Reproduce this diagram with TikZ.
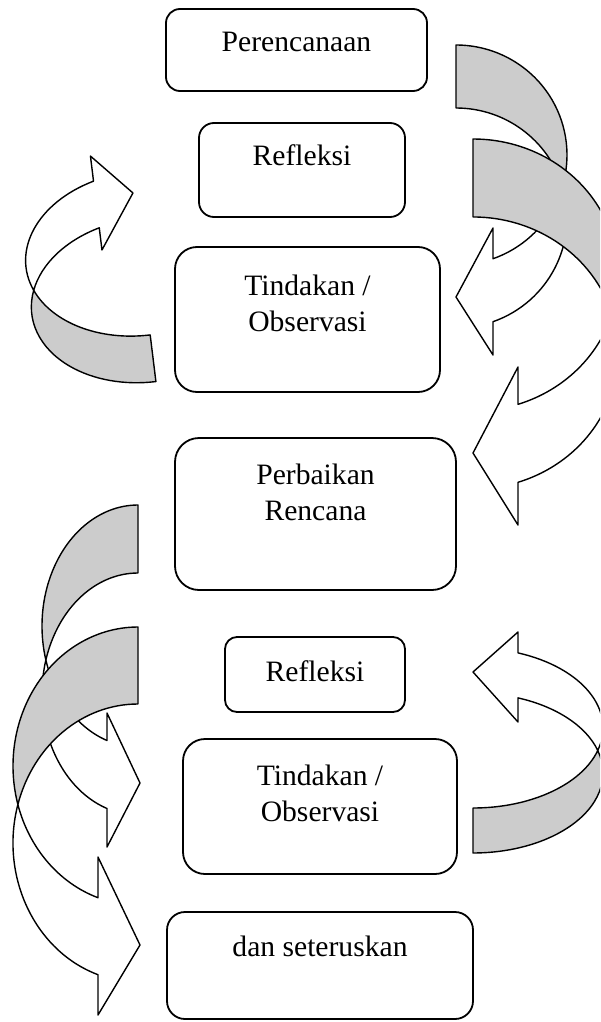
\documentclass[tikz,border=0pt]{standalone}
\usepackage{fontspec}
\setmainfont{Liberation Serif}
\usetikzlibrary{positioning}
\tikzset{
  box/.style={draw, line width=0.9pt, inner sep=0pt, rounded corners=8pt},
  boxtext/.style={inner sep=0pt, align=center, font=\fontsize{14.8}{18.2}\selectfont},
  back/.style={draw, fill=black!20, line width=0.7pt, line join=round},
  front/.style={draw, fill=white, line width=0.7pt, line join=round},
}

\begin{document}
\begin{tikzpicture}[x=0.5pt, y=-0.5pt]
\useasboundingbox (0,0) rectangle (600,1022);
\clip (0,0) rectangle (600,1022);

% ---- boxes (absolute positions, 1 unit = 1 px of the page) ----------------
\node[box, minimum width=130.5pt, minimum height=41pt, rounded corners=7pt]   (plan)  at (296.5,50)  {};
\node[box, minimum width=103pt,   minimum height=47pt, rounded corners=7.5pt] (refl1) at (302,170)   {};
\node[box, minimum width=132.5pt, minimum height=72.5pt, rounded corners=11pt] (act1) at (307.5,319.5) {};
\node[box, minimum width=140.5pt, minimum height=76pt, rounded corners=12pt]  (fix)   at (315.5,514) {};
\node[box, minimum width=90pt,    minimum height=37.5pt, rounded corners=6pt] (refl2) at (315,674.5) {};
\node[box, minimum width=137pt,   minimum height=67.5pt, rounded corners=11pt] (act2) at (320,806.5) {};
\node[box, minimum width=153pt,   minimum height=53.5pt, rounded corners=9pt] (next)  at (320,965.5) {};

% ---- texts, hanging from the top of each box --------------------------------
\node[boxtext, below=12pt of plan.north]  (plan-t)  {Perencanaan};
\node[boxtext, below=11pt of refl1.north] (refl1-t) {Refleksi};
\node[boxtext, below=14pt of act1.north]  (act1-t)  {Tindakan /\\Observasi};
\node[boxtext, below=13pt of fix.north]   (fix-t)   {Perbaikan\\Rencana};
\node[boxtext, below=12pt of refl2.north] (refl2-t) {Refleksi};
\node[boxtext, below=13pt of act2.north]  (act2-t)  {Tindakan /\\Observasi};
\node[boxtext, below=12pt of next.north]  (next-t)  {dan seteruskan};

% ---- right side, upper twisted arrows ---------------------------------------
\path[back] (456,45) arc[start angle=-90, end angle=16.64, x radius=111, y radius=110]
  arc[start angle=-16.64, end angle=-90, x radius=111, y radius=110] -- cycle;
\path[front] (493,321.7) arc[start angle=70.53, end angle=-16.64, x radius=111, y radius=110]
  arc[start angle=16.64, end angle=70.53, x radius=111, y radius=110]
  -- (493,228) -- (456,297) -- (493,355) -- cycle;

\path[back] (473,139) arc[start angle=-90, end angle=16.66, x radius=145, y radius=136]
  arc[start angle=-16.66, end angle=-90, x radius=145, y radius=136] -- cycle;
\path[front] (518,482.3) arc[start angle=71.92, end angle=-16.66, x radius=145, y radius=136]
  arc[start angle=16.66, end angle=71.92, x radius=145, y radius=136]
  -- (518,367) -- (473,453) -- (518,525) -- cycle;

% ---- left side, upper arrow (slightly turned) -------------------------------
\path[back, rotate around={7:(150,276)}] (143,334.5)
  arc[start angle=90, end angle=163.35, x radius=115, y radius=82]
  arc[start angle=196.65, end angle=90, x radius=115, y radius=82] -- cycle;
\path[front, rotate around={7:(150,276)}] (105.5,175)
  arc[start angle=250.97, end angle=163.35, x radius=115, y radius=82]
  arc[start angle=196.65, end angle=250.97, x radius=115, y radius=82]
  -- (105.5,244.3) -- (143.2,191.5) -- (105.5,149.7) -- cycle;

% ---- left side, lower twisted arrows ----------------------------------------
\path[back] (138,505) arc[start angle=270, end angle=163.68, x radius=96, y radius=121]
  arc[start angle=196.32, end angle=270, x radius=96, y radius=121] -- cycle;
\path[front] (107,808.5) arc[start angle=108.84, end angle=196.32, x radius=96, y radius=121]
  arc[start angle=163.68, end angle=108.84, x radius=96, y radius=121]
  -- (107,713) -- (140,783) -- (107,847) -- cycle;

\path[back] (138,627) arc[start angle=270, end angle=163.92, x radius=125, y radius=139]
  arc[start angle=196.08, end angle=270, x radius=125, y radius=139] -- cycle;
\path[front] (98,974.7) arc[start angle=108.66, end angle=196.08, x radius=125, y radius=139]
  arc[start angle=163.92, end angle=108.66, x radius=125, y radius=139]
  -- (98,857) -- (140,945) -- (98,1015) -- cycle;

% ---- right side, lower arrow ------------------------------------------------
\path[back] (473,808) arc[start angle=90, end angle=16.33, x radius=130, y radius=80]
  arc[start angle=-16.33, end angle=90, x radius=130, y radius=80] -- cycle;
\path[front] (518,652.9) arc[start angle=-69.75, end angle=16.33, x radius=130, y radius=80]
  arc[start angle=-16.33, end angle=-69.75, x radius=130, y radius=80]
  -- (518,722) -- (473,672) -- (518,632) -- cycle;

\end{tikzpicture}
\end{document}
